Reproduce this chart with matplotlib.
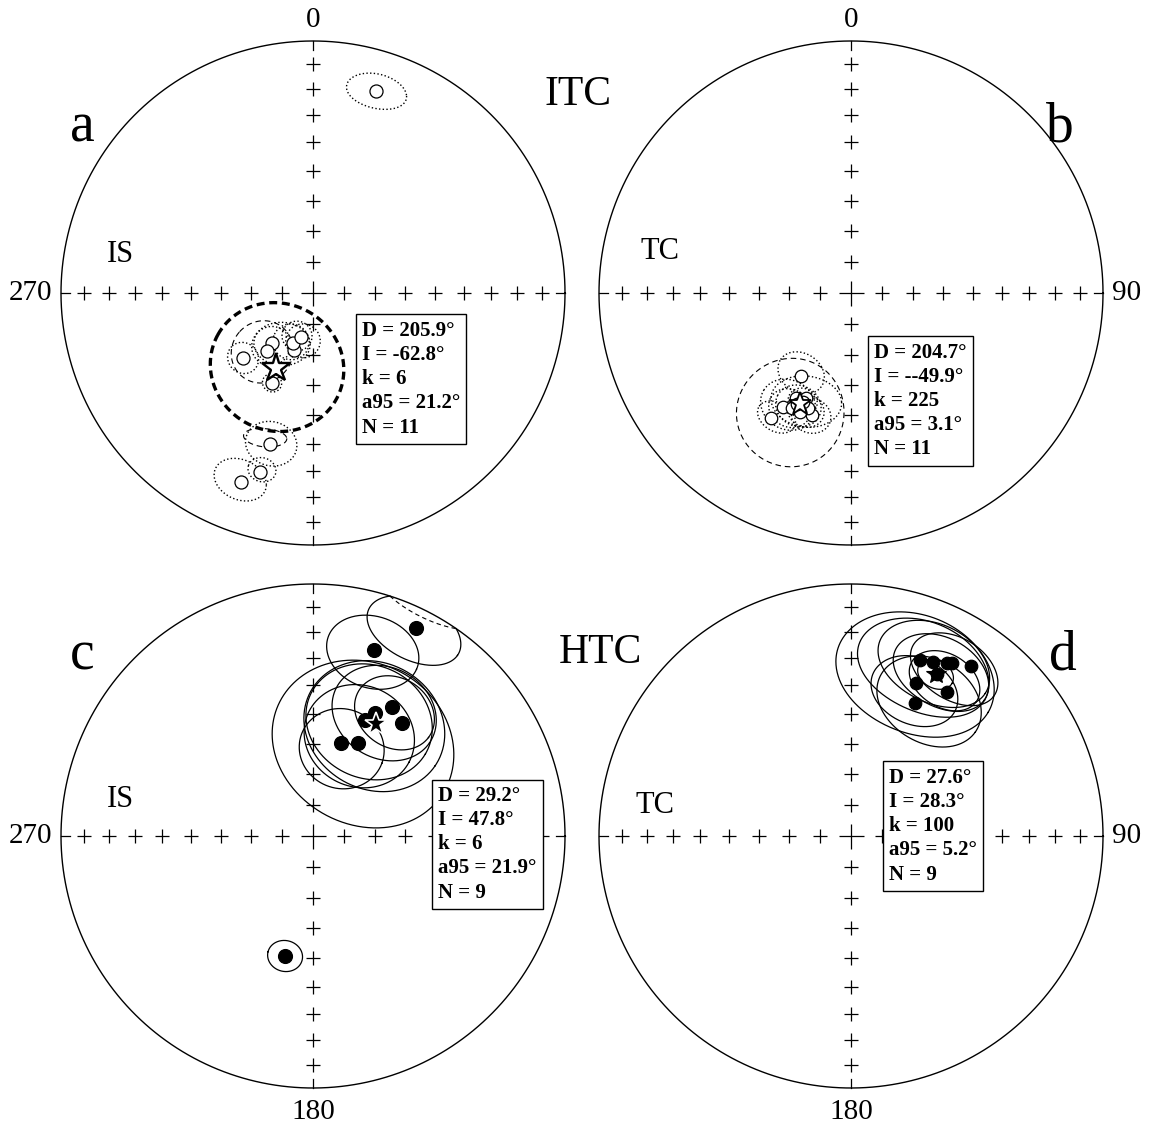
import numpy as np
import matplotlib.pyplot as plt

plt.rcParams['font.family'] = ['Liberation Serif', 'DejaVu Serif']

# site mean directions (deg); negative inclination = upper hemisphere
dec_a = [17.3, 227.1, 219.4, 218.4, 198.4, 201.8, 195.3, 204.5, 195.9, 196.5, 200.9]
inc_a = [-17.1, -58.9, -69.1, -66.0, -70.6, -72.6, -75.3, -57.8, -37.7, -26.8, -20.9]
dec_b = [211.1, 210.8, 212.6, 197.7, 207.6, 203.2, 207.2, 200.5, 203.2, 203.8, 205.9]
inc_b = [-58.4, -46.3, -40.8, -47.9, -51.2, -52.6, -47.5, -49.7, -47.4, -51.0, -49.5]
dec_c = [26.3, 18.2, 31.5, 38.2, 26.8, 24.1, 16.8, 25.8, 193.1]
inc_c = [8.7, 23.4, 39.8, 42.4, 44.5, 48.2, 58.4, 56.3, 49.5]
dec_d = [21.4, 25.2, 29.0, 30.3, 35.2, 23.0, 33.7, 25.7, 27.8]
inc_d = [25.9, 24.6, 22.5, 21.6, 18.6, 34.4, 31.9, 41.1, 28.0]

# confidence ellipses: dec, inc, semi-axis 1, semi-axis 2, rotation (deg)
ell_a = [(17.5, -17.0, 8.0, 6.8, -17), (227.1, -58.9, 5.0, 5.0, 0),
         (218.4, -68.1, 6.0, 6.5, 0), (220.8, -64.7, 9.5, 10.5, 0),
         (211.3, -70.7, 9.0, 7.0, 149), (191.8, -74.2, 5.5, 5.5, 0),
         (204.2, -72.7, 5.8, 5.8, 0), (200.4, -75.2, 4.8, 4.8, 0),
         (204.5, -57.8, 3.0, 3.0, 0), (195.5, -37.8, 7.5, 7.9, 0),
         (198.3, -39.3, 6.4, 3.2, 162), (196.1, -27.8, 3.9, 4.5, 0),
         (201.3, -21.4, 7.2, 7.8, 169)]
kind_a = ['dot', 'dot', 'dot', 'dash', 'dot', 'dot', 'dot', 'dot', 'dot',
          'dot', 'dash', 'dot', 'dot']
ell_b = [(212.0, -59.3, 7.6, 6.5, 0), (209.4, -47.7, 8.5, 8.5, 0),
         (202.4, -51.4, 10.9, 8.6, 158), (206.8, -45.3, 16.0, 19.0, 0),
         (205.0, -49.0, 7.0, 7.0, 0), (201.0, -48.5, 5.6, 5.6, 0),
         (204.0, -51.0, 4.5, 4.5, 0), (208.0, -47.0, 6.5, 6.5, 0),
         (211.0, -42.0, 6.0, 5.0, 0), (198.0, -47.5, 6.0, 6.0, 0)]
kind_b = ['dot', 'dot', 'dot', 'dash', 'dot', 'dot', 'dot', 'dot', 'dot', 'dot']
ell_c = [(26.2, 9.3, 12.3, 12.7, 0), (18.0, 23.8, 12.7, 13.8, 0),
         (28.7, 54.6, 29.0, 27.5, 0), (26.2, 47.5, 19.5, 19.5, 0),
         (30.1, 42.5, 16.0, 16.0, 0), (33.5, 40.7, 12.3, 12.3, 0),
         (18.2, 59.9, 13.3, 13.3, 0), (24.9, 53.6, 17.2, 17.2, 0),
         (193.1, 49.5, 5.3, 5.3, 0)]
kind_c = ['solid'] * len(ell_c)
ell_d = [(21.8, 30.2, 23.0, 22.0, 0), (23.4, 27.0, 19.0, 17.0, 0),
         (25.8, 24.3, 16.0, 15.0, 0), (28.9, 26.2, 14.0, 13.0, 0),
         (31.8, 22.6, 12.8, 12.0, 0), (30.2, 37.6, 16.0, 15.0, 0),
         (23.7, 36.9, 13.0, 12.0, 0), (31.1, 28.5, 10.5, 10.0, 0)]
kind_d = ['solid'] * len(ell_d)

# Fisher means: D, I, k, a95, N
stat_a = (205.9, -62.8, 6, 21.2, 11)
stat_b = (204.7, -49.9, 225, 3.1, 11)
stat_c = (29.2, 47.8, 6, 21.9, 9)
stat_d = (27.6, 28.3, 100, 5.2, 9)

line_styles = {
    'dot': dict(ls=':', lw=1.0),
    'dash': dict(ls=(0, (5, 3.5)), lw=0.8),
    'solid': dict(ls='-', lw=0.9),
    'bold': dict(ls=(0, (2.4, 1.4)), lw=2.4),
}


def to_xy(dec, inc):
    d = np.radians(np.asarray(dec, float))
    i = np.radians(np.abs(np.asarray(inc, float)))
    rho = np.sqrt(2) * np.sin((np.pi / 2 - i) / 2)
    return rho * np.sin(d), rho * np.cos(d)


def cone(dec, inc, a, b, rot, n=400):
    D, I, ph = np.radians([dec, inc, rot])
    c = np.array([np.cos(I) * np.cos(D), np.cos(I) * np.sin(D), np.sin(I)])
    e_dec = np.array([-np.sin(D), np.cos(D), 0.0])
    e_inc = np.array([-np.sin(I) * np.cos(D), -np.sin(I) * np.sin(D), np.cos(I)])
    s = 1.0 if inc >= 0 else -1.0
    e_in = s * e_inc
    eA = np.cos(ph) * e_dec + np.sin(ph) * e_in
    eB = -np.sin(ph) * e_dec + np.cos(ph) * e_in
    t = np.linspace(0, 2 * np.pi, n)
    w = np.outer(np.radians(a) * np.cos(t), eA) + np.outer(np.radians(b) * np.sin(t), eB)
    ang = np.linalg.norm(w, axis=1)
    p = np.outer(np.cos(ang), c) + w / ang[:, None] * np.sin(ang)[:, None]
    pdec = np.degrees(np.arctan2(p[:, 1], p[:, 0]))
    pinc = np.degrees(np.arcsin(np.clip(p[:, 2], -1, 1)))
    same = (p[:, 2] * s) >= 0
    x, y = to_xy(pdec, pinc)
    return x, y, same


def draw_cone(ax, e, kind):
    x, y, same = cone(*e)
    keep = same | np.roll(same, 1) | np.roll(same, -1)
    ax.plot(np.where(keep, x, np.nan), np.where(keep, y, np.nan), color='k',
            zorder=2, **line_styles[kind])
    if (~same).any():
        # part of the cone that crosses into the other hemisphere
        other = ~same | np.roll(~same, 1) | np.roll(~same, -1)
        ax.plot(np.where(other, x, np.nan), np.where(other, y, np.nan), color='k',
                lw=0.8, ls=(0, (4, 3)), zorder=2)


def draw_net(ax):
    t = np.linspace(0, 2 * np.pi, 720)
    ax.plot(np.cos(t), np.sin(t), color='k', lw=1.0, zorder=1)
    for d in (0, 90, 180, 270):
        x, y = to_xy([d] * 8, np.arange(10, 90, 10))
        ax.plot(x, y, '+', color='k', ms=9.5, mew=0.9, zorder=1)
        sx, sy = np.sin(np.radians(d)), np.cos(np.radians(d))
        ax.plot([sx, 0.965 * sx], [sy, 0.965 * sy], color='k', lw=0.9, zorder=1)
    ax.plot(0, 0, '+', color='k', ms=18, mew=0.9, zorder=1)


def stats_text(stat, inc_txt=None):
    D, I, k, a95, N = stat
    it = inc_txt if inc_txt is not None else f'{I}'
    return f'D = {D}°\nI = {it}°\nk = {k}\na95 = {a95}°\nN = {N}'


W, H = 1150, 1130
R = 252.0
h = 1.15 * R
fig = plt.figure(figsize=(W / 100, H / 100), dpi=100)


def panel(cx, cy):
    ax = fig.add_axes([(cx - h) / W, (H - cy - h) / H, 2 * h / W, 2 * h / H])
    ax.set_xlim(-1.15, 1.15)
    ax.set_ylim(-1.15, 1.15)
    ax.set_aspect('equal')
    ax.axis('off')
    draw_net(ax)
    return ax


box = dict(boxstyle='square,pad=0.3', fc='white', ec='black', lw=1.0)
lab = dict(fontsize=21, ha='center', va='center')
txt = dict(fontsize=15, fontweight='bold', ha='left', va='top', linespacing=1.28,
           bbox=box, zorder=5)

# a: in situ, intermediate component
ax = panel(313, 293)
for e, k in zip(ell_a, kind_a):
    draw_cone(ax, e, k)
draw_cone(ax, (stat_a[0], stat_a[1], stat_a[3], stat_a[3], 0), 'bold')
x, y = to_xy(dec_a, inc_a)
ax.plot(x, y, 'o', ms=9.4, mfc='white', mec='k', mew=0.9, zorder=3)
x, y = to_xy(stat_a[0], stat_a[1])
ax.plot(x, y, marker='*', ms=21, mfc='white', mec='k', mew=1.7, zorder=4)
ax.text(0, 1.083, '0', **lab)
ax.text(-1.036, 0, '270', fontsize=21, ha='right', va='center')
ax.text(-0.917, 0.655, 'a', fontsize=40, ha='center', va='center')
ax.text(-0.766, 0.151, 'IS', fontsize=22, ha='center', va='center')
ax.text(1.052, 0.786, 'ITC', fontsize=30, ha='center', va='center')
ax.text(0.194, -0.11, stats_text(stat_a), **txt)

# b: tilt corrected, intermediate component
ax = panel(851, 293)
for e, k in zip(ell_b, kind_b):
    draw_cone(ax, e, k)
draw_cone(ax, (stat_b[0], stat_b[1], stat_b[3], stat_b[3], 0), 'solid')
x, y = to_xy(dec_b, inc_b)
ax.plot(x, y, 'o', ms=9.0, mfc='white', mec='k', mew=0.9, zorder=3)
x, y = to_xy(stat_b[0], stat_b[1])
ax.plot(x, y, marker='*', ms=17, mfc='white', mec='k', mew=1.3, zorder=4)
ax.text(0, 1.083, '0', **lab)
ax.text(1.036, 0, '90', fontsize=21, ha='left', va='center')
ax.text(0.829, 0.655, 'b', fontsize=40, ha='center', va='center')
ax.text(-0.758, 0.163, 'TC', fontsize=22, ha='center', va='center')
ax.text(0.091, -0.197, stats_text(stat_b, '-' + str(stat_b[1])), **txt)

# c: in situ, high temperature component
ax = panel(313, 836)
for e, k in zip(ell_c, kind_c):
    draw_cone(ax, e, k)
draw_cone(ax, (stat_c[0], stat_c[1], stat_c[3], stat_c[3], 0), 'solid')
x, y = to_xy(dec_c, inc_c)
ax.plot(x, y, 'o', ms=10, mfc='k', mec='k', mew=0.9, zorder=3)
x, y = to_xy(stat_c[0], stat_c[1])
ax.plot(x, y, marker='*', ms=17, mfc='k', mec='white', mew=1.2, zorder=4)
ax.text(-1.036, 0, '270', fontsize=21, ha='right', va='center')
ax.text(0, -1.095, '180', **lab)
ax.text(-0.917, 0.718, 'c', fontsize=40, ha='center', va='center')
ax.text(-0.766, 0.143, 'IS', fontsize=22, ha='center', va='center')
ax.text(1.139, 0.726, 'HTC', fontsize=30, ha='center', va='center')
ax.text(0.496, 0.199, stats_text(stat_c), **txt)

# d: tilt corrected, high temperature component
ax = panel(851, 836)
for e, k in zip(ell_d, kind_d):
    draw_cone(ax, e, k)
draw_cone(ax, (stat_d[0], stat_d[1], stat_d[3], stat_d[3], 0), 'solid')
x, y = to_xy(dec_d, inc_d)
ax.plot(x, y, 'o', ms=9.0, mfc='k', mec='k', mew=0.9, zorder=3)
x, y = to_xy(stat_d[0], stat_d[1])
ax.plot(x, y, marker='*', ms=15, mfc='k', mec='k', mew=0.8, zorder=4)
ax.text(1.036, 0, '90', fontsize=21, ha='left', va='center')
ax.text(0, -1.095, '180', **lab)
ax.text(0.841, 0.718, 'd', fontsize=40, ha='center', va='center')
ax.text(-0.778, 0.123, 'TC', fontsize=22, ha='center', va='center')
ax.text(0.151, 0.271, stats_text(stat_d), **txt)

fig.savefig('out.png', dpi=100)
